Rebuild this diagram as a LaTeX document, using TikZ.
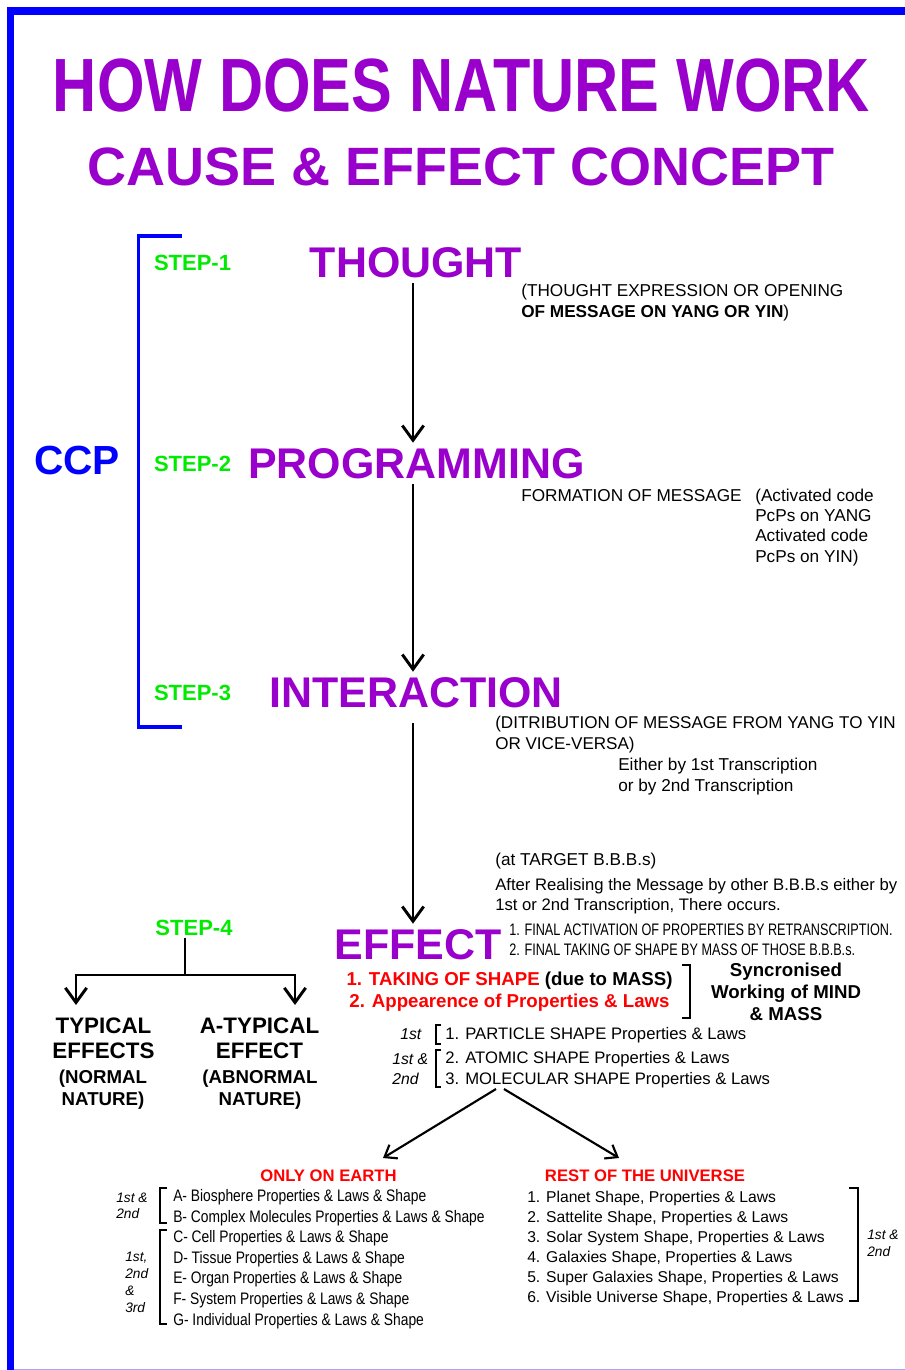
\documentclass[tikz,border=0pt]{standalone}
\usepackage{fontspec}
\setmainfont{Liberation Sans}
\newfontfamily\titlefont[FakeStretch=0.81]{Liberation Sans}
\newfontfamily\finalfont[FakeStretch=0.76]{Liberation Sans}
\newfontfamily\earthfont[FakeStretch=0.83]{Liberation Sans}
\usetikzlibrary{arrows.meta}
\definecolor{nature}{RGB}{153,0,204}
\definecolor{stepgreen}{RGB}{0,235,0}
\definecolor{ccpblue}{RGB}{0,0,255}

\begin{document}
\begin{tikzpicture}[x=0.75pt, y=-0.75pt,
    bigword/.style={font=\fontsize{32.2pt}{36pt}\selectfont\bfseries, text=nature, inner sep=0pt, outer sep=4pt, anchor=base},
    steplabel/.style={font=\fontsize{16.5pt}{19pt}\selectfont\bfseries, text=stepgreen, inner sep=0pt, outer sep=2.25pt, anchor=base west},
    note/.style={font=\fontsize{12.9pt}{15.6pt}\selectfont, inner sep=0pt, anchor=base west, align=left},
    small/.style={font=\fontsize{12.5pt}{15.5pt}\selectfont, inner sep=0pt, anchor=base west, align=left},
    tag/.style={font=\fontsize{10.3pt}{12pt}\selectfont\itshape, inner sep=0pt, anchor=base west, align=left},
    heading/.style={font=\fontsize{12.5pt}{15pt}\selectfont\bfseries, text=red, inner sep=0pt, anchor=base},
    flow/.style={line width=2.2pt, -{Straight Barb[length=11pt, width=16pt]}},
    thinflow/.style={line width=1.6pt, -{Straight Barb[length=8pt, width=12pt]}},
    brace/.style={line width=1.1pt}]
    \useasboundingbox (0,0) rectangle (905,1370);

    % Frame
    \fill[ccpblue] (7,7) rectangle (14,1370);
    \fill[ccpblue] (7,7) rectangle (905,15);
    \draw[ccpblue!35, line width=0.75pt] (14,1369.5) -- (905,1369.5);

    % Titles
    \node[font=\titlefont\fontsize{56.6pt}{60pt}\selectfont\bfseries, text=nature, inner sep=0pt, anchor=base] (title) at (461.5,111) {HOW DOES NATURE WORK};
    \node[font=\fontsize{40.5pt}{44pt}\selectfont\bfseries, text=nature, inner sep=0pt, anchor=base] (subtitle) at (461.5,185) {CAUSE \& EFFECT CONCEPT};

    % CCP bracket
    \draw[ccpblue, line width=2.6pt] (182,236) -- (138.5,236) -- (138.5,727) -- (182,727);
    \node[font=\fontsize{30.5pt}{34pt}\selectfont\bfseries, text=ccpblue, inner sep=0pt, anchor=base west] (ccp) at (34,474) {CCP};

    % Steps
    \node[steplabel] (step1) at (151,270) {STEP-1};
    \node[steplabel] (step2) at (151,471) {STEP-2};
    \node[steplabel] (step3) at (151,700) {STEP-3};
    \node[steplabel, anchor=base] (step4) at (194,935) {STEP-4};

    \node[bigword] (thought) at (416,277) {THOUGHT};
    \node[bigword] (programming) at (416.5,478) {PROGRAMMING};
    \node[bigword] (interaction) at (416,707) {INTERACTION};
    \node[bigword] (effect) at (418,959) {EFFECT};

    \coordinate (axis) at (413,0);
    \draw[flow] (thought.south -| axis) -- (programming.north -| axis);
    \draw[flow] (programming.south -| axis) -- (interaction.north -| axis);
    \draw[flow, shorten <=8pt] (interaction.south -| axis) -- (effect.north -| axis);

    % Notes on the right
    \node[note] (thoughtnote) at (521,317) {(THOUGHT EXPRESSION OR OPENING\\\textbf{OF MESSAGE ON YANG OR YIN})};
    \node[note] (formation) at (521,501) {FORMATION OF MESSAGE};
    \node[note, font=\fontsize{12.9pt}{15.2pt}\selectfont] (pcps) at (755,562) {(Activated code\\PcPs on YANG\\Activated code\\PcPs on YIN)};
    \node[note, font=\fontsize{12.8pt}{15.6pt}\selectfont] (distribution) at (495,749) {(DITRIBUTION OF MESSAGE FROM YANG TO YIN\\OR VICE-VERSA)};
    \node[note] (either) at (618,791) {Either by 1st Transcription\\or by 2nd Transcription};
    \node[note] (target) at (495,865) {(at TARGET B.B.B.s)};
    \node[note, font=\fontsize{12.5pt}{15pt}\selectfont] (realising) at (495,910) {After Realising the Message by other B.B.B.s either by\\1st or 2nd Transcription, There occurs.};
    \node[note, font=\finalfont\fontsize{12.5pt}{15pt}\selectfont] (final) at (509,955) {1. FINAL ACTIVATION OF PROPERTIES BY RETRANSCRIPTION.\\2. FINAL TAKING OF SHAPE BY MASS OF THOSE B.B.B.s.};

    % Effect results
    \node[font=\fontsize{14pt}{16.5pt}\selectfont\bfseries, inner sep=0pt, anchor=base, align=center] (taking) at (509.5,1007) {\textcolor{red}{1. TAKING OF SHAPE} (due to MASS)\\\textcolor{red}{2. Appearence of Properties \& Laws}};
    \draw[brace] (682,965) -- (690,965) -- (690,1018) -- (682,1018);
    \node[font=\fontsize{14pt}{16.5pt}\selectfont\bfseries, inner sep=0pt, anchor=base, align=center] (sync) at (786,1020) {Syncronised\\Working of MIND\\\& MASS};

    \node[tag, font=\fontsize{11.8pt}{15pt}\selectfont\itshape] (first) at (400,1039) {1st};
    \draw[brace] (441,1025) -- (436,1025) -- (436,1044) -- (441,1044);
    \node[small] (particle) at (445,1039) {1. PARTICLE SHAPE Properties \& Laws};
    \node[tag, font=\fontsize{11.8pt}{15pt}\selectfont\itshape] (firstsecond) at (392,1084) {1st \&\\2nd};
    \draw[brace] (441,1050) -- (436,1050) -- (436,1087) -- (441,1087);
    \node[small, font=\fontsize{12.5pt}{15.7pt}\selectfont] (molecular) at (445,1084) {2. ATOMIC SHAPE Properties \& Laws\\3. MOLECULAR SHAPE Properties \& Laws};

    \coordinate (fork) at (500,1089);
    \coordinate (earthtip) at (383,1158);
    \coordinate (universetip) at (619,1158);
    \draw[thinflow] ([xshift=-3pt]fork) -- (earthtip);
    \draw[thinflow] ([xshift=3pt]fork) -- (universetip);

    % Only on earth
    \node[heading] (earth) at (328.5,1181) {ONLY ON EARTH};
    \node[small, font=\earthfont\fontsize{12.5pt}{15.45pt}\selectfont] (earthlist) at (173,1325) {A- Biosphere Properties \& Laws \& Shape\\B- Complex Molecules Properties \& Laws \& Shape\\C- Cell Properties \& Laws \& Shape\\D- Tissue Properties \& Laws \& Shape\\E- Organ Properties \& Laws \& Shape\\F- System Properties \& Laws \& Shape\\G- Individual Properties \& Laws \& Shape};
    \draw[brace] (167,1188) -- (160,1188) -- (160,1223) -- (167,1223);
    \draw[brace] (167,1230) -- (160,1230) -- (160,1324) -- (167,1324);
    \node[tag, font=\fontsize{10.3pt}{12pt}\selectfont\itshape] (earthtag) at (116,1218) {1st \&\\2nd};
    \node[tag, font=\fontsize{10.3pt}{12.75pt}\selectfont\itshape] (earthtagb) at (125,1312) {1st,\\2nd\\\&\\3rd};

    % Rest of the universe
    \node[heading] (universe) at (645,1181) {REST OF THE UNIVERSE};
    \node[small, font=\fontsize{11.75pt}{15pt}\selectfont] (universelist) at (527,1302) {1. Planet Shape, Properties \& Laws\\2. Sattelite Shape, Properties \& Laws\\3. Solar System Shape, Properties \& Laws\\4. Galaxies Shape, Properties \& Laws\\5. Super Galaxies Shape, Properties \& Laws\\6. Visible Universe Shape, Properties \& Laws};
    \draw[brace] (849,1188) -- (858,1188) -- (858,1301) -- (849,1301);
    \node[tag, font=\fontsize{10.3pt}{12.75pt}\selectfont\itshape] (universetag) at (867,1256) {1st \&\\2nd};

    % Step 4 branches
    \node[font=\fontsize{16.8pt}{18.75pt}\selectfont\bfseries, inner sep=0pt, anchor=base, align=center] (typical) at (103.5,1058) {TYPICAL\\EFFECTS};
    \node[font=\fontsize{14pt}{16.5pt}\selectfont\bfseries, inner sep=0pt, anchor=base, align=center] (typicalnote) at (103,1105) {(NORMAL\\NATURE)};
    \node[font=\fontsize{16.8pt}{18.75pt}\selectfont\bfseries, inner sep=0pt, anchor=base, align=center] (atypical) at (259.5,1058) {A-TYPICAL\\EFFECT};
    \node[font=\fontsize{14pt}{16.5pt}\selectfont\bfseries, inner sep=0pt, anchor=base, align=center] (atypicalnote) at (260,1105) {(ABNORMAL\\NATURE)};

    \coordinate (fork4) at (185,975);
    \coordinate (typicaltip) at (76,1005);
    \coordinate (atypicaltip) at (295,1005);
    \draw[line width=2.2pt] (step4.south -| fork4) -- (fork4);
    \draw[flow] (fork4) -| (typicaltip);
    \draw[flow] (fork4) -| (atypicaltip);
\end{tikzpicture}
\end{document}
